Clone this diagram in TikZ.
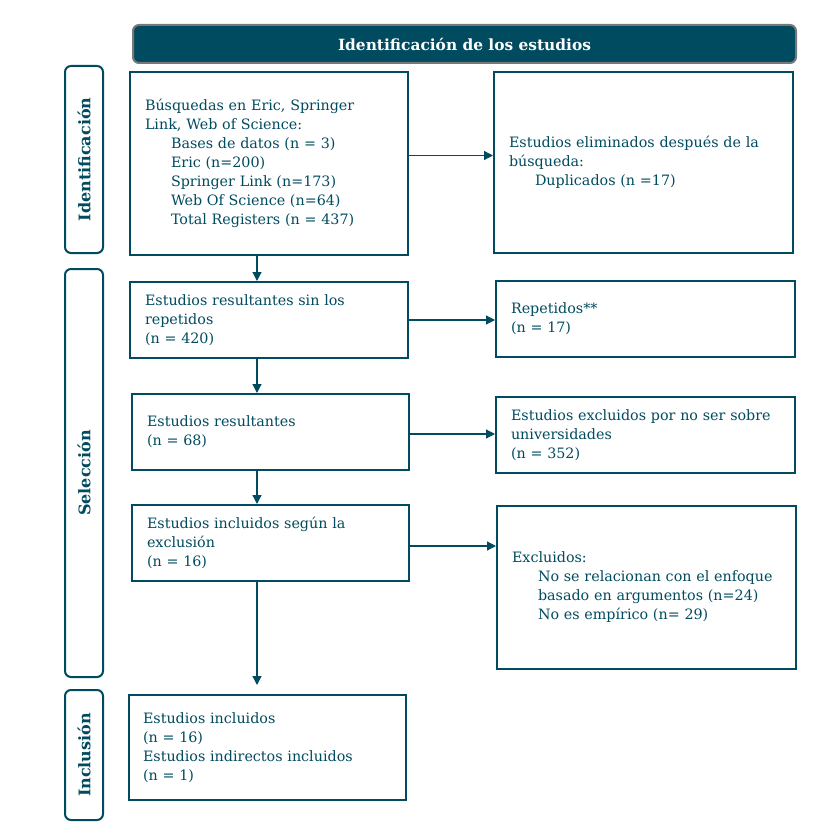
\documentclass[tikz,border=0pt]{standalone}
\usepackage{fontspec}
\setmainfont{DejaVu Serif}
\usepackage{tikz}
\usetikzlibrary{arrows.meta}
\definecolor{prisma}{RGB}{0,75,95}
\definecolor{edgegray}{RGB}{120,120,120}

\begin{document}
\begin{tikzpicture}[x=1pt,y=-1pt,
    every node/.style={font=\fontsize{14.3}{19}\selectfont, text=prisma},
    box/.style={draw=prisma, line width=2pt, fill=white, rectangle,
        inner xsep=15pt, inner ysep=4pt, align=left},
    phase/.style={draw=prisma, line width=2pt, fill=white, rounded corners=6pt,
        rotate=90, minimum height=38pt, font=\fontsize{16}{19}\selectfont\bfseries},
    flow/.style={draw=prisma, line width=1.2pt, -{Triangle[width=9pt,length=9pt]}}]
    \useasboundingbox (0,0) rectangle (835,824);

    %header
    \node[draw=edgegray, line width=2pt, fill=prisma, rounded corners=6pt,
        minimum width=663pt, minimum height=38pt, text=white,
        font=\fontsize{15.4}{19}\selectfont\bfseries] (head) at (464.5,44) {Identificación de los estudios};

    %phases
    \node[phase, minimum width=187pt] (idf) at (84,159.5) {Identificación};
    \node[phase, minimum width=408pt] (sel) at (84,473) {Selección};
    \node[phase, minimum width=130pt] (inc) at (84,755) {Inclusión};

    %left column
    \node[box, minimum height=183pt, text width=248pt] (b1) at (269,163.5) {%
        Búsquedas en Eric, Springer\\ Link, Web of Science:\\
        \hspace*{26pt}Bases de datos (n = 3)\\
        \hspace*{26pt}Eric (n=200)\\
        \hspace*{26pt}Springer Link (n=173)\\
        \hspace*{26pt}Web Of Science (n=64)\\
        \hspace*{26pt}Total Registers (n = 437)};
    \node[box, minimum height=76pt, text width=248pt] (b2) at (269,320) {%
        Estudios resultantes sin los\\ repetidos\\ (n = 420)};
    \node[box, minimum height=76pt, text width=247pt] (b3) at (270.5,432) {%
        Estudios resultantes\\ (n = 68)};
    \node[box, minimum height=76pt, text width=247pt] (b4) at (270.5,543) {%
        Estudios incluidos según la\\ exclusión\\ (n = 16)};
    \node[box, minimum height=105pt, text width=249pt, inner xsep=14pt] (b5) at (267.5,747.5) {%
        Estudios incluidos\\ (n = 16)\\ Estudios indirectos incluidos\\ (n = 1)};

    %right column
    \node[box, minimum height=181pt, text width=269pt] (r1) at (643.5,162.5) {%
        Estudios eliminados después de la\\ búsqueda:\\
        \hspace*{26pt}Duplicados (n =17)};
    \node[box, minimum height=76pt, text width=269pt] (r2) at (645.5,319) {%
        Repetidos**\\ (n = 17)};
    \node[box, minimum height=76pt, text width=269pt] (r3) at (645.5,435) {%
        Estudios excluidos por no ser sobre\\ universidades\\ (n = 352)};
    \node[box, minimum height=163pt, text width=269pt] (r4) at (646.5,587.5) {%
        Excluidos:\\
        \hspace*{26pt}No se relacionan con el enfoque\\
        \hspace*{26pt}basado en argumentos (n=24)\\
        \hspace*{26pt}No es empírico (n= 29)};

    %arrows
    \coordinate (axis) at (257,0);
    \draw[flow] (b1.south -| axis) -- (b2.north -| axis);
    \draw[flow] (b2.south -| axis) -- (b3.north -| axis);
    \draw[flow] (b3.south -| axis) -- (b4.north -| axis);
    \draw[flow, shorten >=9pt] (b4.south -| axis) -- (b5.north -| axis);

    \draw[flow] ([yshift=8pt]b1.east) -- ([yshift=8pt]b1.east -| r1.west);
    \draw[flow] (b2.east) -- (b2.east -| r2.west);
    \draw[flow] ([yshift=-2pt]b3.east) -- ([yshift=-2pt]b3.east -| r3.west);
    \draw[flow] ([yshift=-3pt]b4.east) -- ([yshift=-3pt]b4.east -| r4.west);
\end{tikzpicture}
\end{document}
